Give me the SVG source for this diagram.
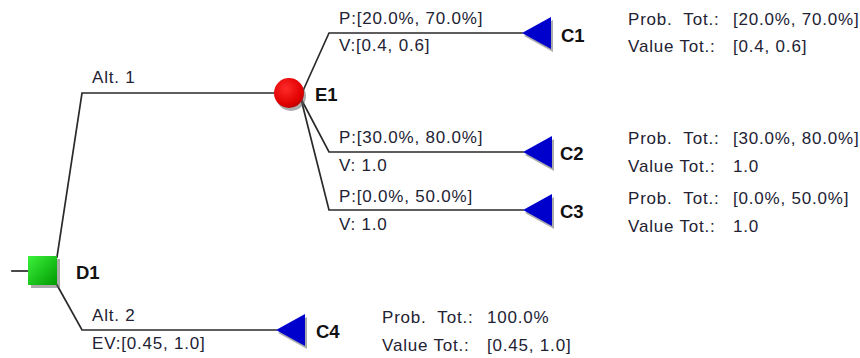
<svg xmlns="http://www.w3.org/2000/svg" width="860" height="358" viewBox="0 0 860 358">
  <style>
    .edge { fill: none; stroke: #2a2a2a; stroke-width: 1.7; stroke-linecap: square; }
    .txt { font-family: "Liberation Sans", Arial, sans-serif; font-size: 17px; letter-spacing: 0.8px; fill: #222233; white-space: pre; }
    .lbl { font-family: "Liberation Sans", Arial, sans-serif; font-size: 18.5px; font-weight: bold; fill: #111; }
    .shadow { fill: #666; opacity: 0.55; }
    .chance-end { fill: #0000cd; }
  </style>
  <defs>
    <linearGradient id="gDecision" x1="0" y1="0" x2="1" y2="1">
      <stop offset="0" stop-color="#3cf23c"/>
      <stop offset="1" stop-color="#009a00"/>
    </linearGradient>
    <radialGradient id="gChance" cx="0.4" cy="0.35" r="0.7">
      <stop offset="0" stop-color="#ff2a2a"/>
      <stop offset="0.75" stop-color="#e00000"/>
      <stop offset="1" stop-color="#b40000"/>
    </radialGradient>
    <!-- terminal node: left-pointing triangle, tip at origin -->
    <polygon id="term" points="0,0 29,-16 29,16"/>
  </defs>

  <!-- branches -->
  <g id="connectors">
    <line class="edge" x1="12" y1="271" x2="28" y2="271"/>
    <polyline class="edge" points="57,257 82,93 289,93"/>
    <polyline class="edge" points="57,285 82,330 276,330"/>
    <polyline class="edge" points="302,93 329,33 522,33"/>
    <polyline class="edge" points="299,95 329,152 523,152"/>
    <polyline class="edge" points="300,95 329,210 523,210"/>
  </g>

  <!-- branch labels -->
  <g id="branch-labels">
    <text class="txt" x="92" y="83">Alt. 1</text>
    <text class="txt" x="92" y="321">Alt. 2</text>
    <text class="txt" x="92" y="349">EV:[0.45, 1.0]</text>
    <text class="txt" x="339" y="24">P:[20.0%, 70.0%]</text>
    <text class="txt" x="339" y="51">V:[0.4, 0.6]</text>
    <text class="txt" x="339" y="143">P:[30.0%, 80.0%]</text>
    <text class="txt" x="339" y="171">V: 1.0</text>
    <text class="txt" x="339" y="202">P:[0.0%, 50.0%]</text>
    <text class="txt" x="339" y="230">V: 1.0</text>
  </g>

  <g id="D1">
    <rect class="shadow" x="31" y="259" width="29" height="29"/>
    <rect x="28" y="256" width="29" height="29" fill="url(#gDecision)"/>
    <text class="lbl" x="76" y="279">D1</text>
  </g>

  <g id="E1">
    <circle class="shadow" cx="291" cy="96" r="15"/>
    <circle cx="289" cy="93" r="15" fill="url(#gChance)"/>
    <text class="lbl" x="315" y="101">E1</text>
  </g>

  <g id="C1">
    <use href="#term" class="shadow" x="524" y="36"/>
    <use href="#term" class="chance-end" x="522" y="33"/>
    <text class="lbl" x="561" y="42">C1</text>
    <text class="txt" x="628" y="25">Prob.  Tot.:</text>
    <text class="txt" x="733" y="25">[20.0%, 70.0%]</text>
    <text class="txt" x="628" y="52">Value Tot.:</text>
    <text class="txt" x="733" y="52">[0.4, 0.6]</text>
  </g>

  <g id="C2">
    <use href="#term" class="shadow" x="525" y="155"/>
    <use href="#term" class="chance-end" x="523" y="152"/>
    <text class="lbl" x="560" y="160">C2</text>
    <text class="txt" x="628" y="144">Prob.  Tot.:</text>
    <text class="txt" x="733" y="144">[30.0%, 80.0%]</text>
    <text class="txt" x="628" y="172">Value Tot.:</text>
    <text class="txt" x="733" y="172">1.0</text>
  </g>

  <g id="C3">
    <use href="#term" class="shadow" x="525" y="213"/>
    <use href="#term" class="chance-end" x="523" y="210"/>
    <text class="lbl" x="560" y="218">C3</text>
    <text class="txt" x="628" y="204">Prob.  Tot.:</text>
    <text class="txt" x="733" y="204">[0.0%, 50.0%]</text>
    <text class="txt" x="628" y="232">Value Tot.:</text>
    <text class="txt" x="733" y="232">1.0</text>
  </g>

  <g id="C4">
    <use href="#term" class="shadow" x="278" y="333"/>
    <use href="#term" class="chance-end" x="276" y="330"/>
    <text class="lbl" x="316" y="338">C4</text>
    <text class="txt" x="382" y="323">Prob.  Tot.:</text>
    <text class="txt" x="487" y="323">100.0%</text>
    <text class="txt" x="382" y="351">Value Tot.:</text>
    <text class="txt" x="487" y="351">[0.45, 1.0]</text>
  </g>
</svg>
